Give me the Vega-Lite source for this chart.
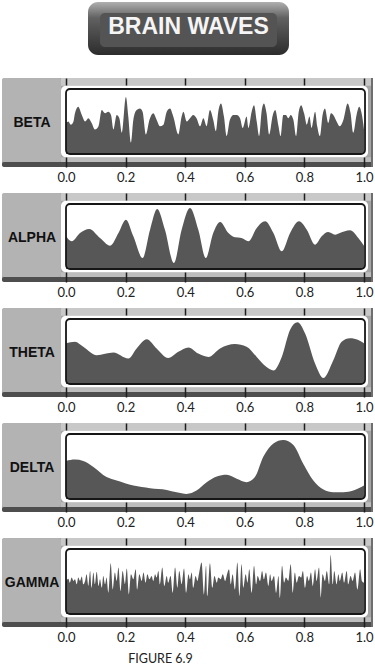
{
"$schema":"https://vega.github.io/schema/vega-lite/v6.json",
"padding":{"left":2,"top":0,"right":0,"bottom":0},
"background":"#ffffff",
"bounds":"flush",
"spacing":26,
"config":{"view":{"stroke":null}},
"datasets":{
"beta":[{"t":0,"v":47.5},{"t":0.008,"v":50},{"t":0.016,"v":45},{"t":0.025,"v":50},{"t":0.030,"v":62.5},{"t":0.041,"v":72.5},{"t":0.053,"v":60},{"t":0.064,"v":50},{"t":0.075,"v":55},{"t":0.086,"v":47.5},{"t":0.097,"v":37.5},{"t":0.109,"v":42.5},{"t":0.120,"v":67.5},{"t":0.131,"v":62.5},{"t":0.142,"v":65},{"t":0.151,"v":60},{"t":0.159,"v":37.5},{"t":0.170,"v":60},{"t":0.179,"v":55},{"t":0.187,"v":32.5},{"t":0.201,"v":87.5},{"t":0.209,"v":57.5},{"t":0.218,"v":17.5},{"t":0.226,"v":52.5},{"t":0.237,"v":67.5},{"t":0.248,"v":70},{"t":0.257,"v":65},{"t":0.268,"v":30},{"t":0.280,"v":52.5},{"t":0.293,"v":62.5},{"t":0.304,"v":52.5},{"t":0.315,"v":42.5},{"t":0.327,"v":45},{"t":0.338,"v":65},{"t":0.349,"v":70},{"t":0.360,"v":57.5},{"t":0.377,"v":30},{"t":0.388,"v":57.5},{"t":0.394,"v":65},{"t":0.405,"v":50},{"t":0.416,"v":55},{"t":0.427,"v":60},{"t":0.438,"v":55},{"t":0.450,"v":42.5},{"t":0.461,"v":55},{"t":0.472,"v":42.5},{"t":0.483,"v":67.5},{"t":0.494,"v":52.5},{"t":0.503,"v":35},{"t":0.511,"v":65},{"t":0.520,"v":77.5},{"t":0.530,"v":57.5},{"t":0.539,"v":27.5},{"t":0.550,"v":52.5},{"t":0.562,"v":60},{"t":0.573,"v":60},{"t":0.584,"v":55},{"t":0.593,"v":40},{"t":0.606,"v":57.5},{"t":0.612,"v":40},{"t":0.623,"v":65},{"t":0.631,"v":75},{"t":0.640,"v":50},{"t":0.648,"v":27.5},{"t":0.657,"v":67.5},{"t":0.664,"v":77.5},{"t":0.673,"v":62.5},{"t":0.682,"v":30},{"t":0.694,"v":60},{"t":0.702,"v":67.5},{"t":0.713,"v":42.5},{"t":0.720,"v":27.5},{"t":0.729,"v":60},{"t":0.738,"v":60},{"t":0.746,"v":55},{"t":0.754,"v":60},{"t":0.763,"v":52.5},{"t":0.772,"v":27.5},{"t":0.781,"v":65},{"t":0.789,"v":75},{"t":0.799,"v":62.5},{"t":0.808,"v":45},{"t":0.817,"v":57.5},{"t":0.824,"v":40},{"t":0.836,"v":65},{"t":0.843,"v":42.5},{"t":0.852,"v":27.5},{"t":0.861,"v":60},{"t":0.869,"v":70},{"t":0.880,"v":47.5},{"t":0.889,"v":62.5},{"t":0.897,"v":60},{"t":0.908,"v":50},{"t":0.919,"v":42.5},{"t":0.931,"v":52.5},{"t":0.945,"v":77.5},{"t":0.955,"v":62.5},{"t":0.964,"v":32.5},{"t":0.975,"v":60},{"t":0.984,"v":72.5},{"t":0.992,"v":62.5},{"t":1.0,"v":37.5}],
"alpha":[{"t":0,"v":50.3},{"t":0.019,"v":42.6},{"t":0.047,"v":55.4},{"t":0.078,"v":61.5},{"t":0.114,"v":47.7},{"t":0.148,"v":35.9},{"t":0.176,"v":55.4},{"t":0.201,"v":75.9},{"t":0.226,"v":50.3},{"t":0.257,"v":16.9},{"t":0.282,"v":60.5},{"t":0.306,"v":92.3},{"t":0.332,"v":60.5},{"t":0.362,"v":9.2},{"t":0.388,"v":60.5},{"t":0.416,"v":93.8},{"t":0.444,"v":60.5},{"t":0.469,"v":16.9},{"t":0.494,"v":55.4},{"t":0.517,"v":72.3},{"t":0.545,"v":55.4},{"t":0.567,"v":48.7},{"t":0.589,"v":47.7},{"t":0.612,"v":42.6},{"t":0.640,"v":63.1},{"t":0.668,"v":73.3},{"t":0.696,"v":55.4},{"t":0.724,"v":27.2},{"t":0.752,"v":55.4},{"t":0.782,"v":73.3},{"t":0.808,"v":60.5},{"t":0.836,"v":37.4},{"t":0.858,"v":50.3},{"t":0.880,"v":56.9},{"t":0.903,"v":52.8},{"t":0.919,"v":55.4},{"t":0.953,"v":59.5},{"t":0.981,"v":47.7},{"t":1.0,"v":35.9}],
"theta":[{"t":0,"v":62.5},{"t":0.030,"v":65.1},{"t":0.058,"v":57.3},{"t":0.103,"v":44.3},{"t":0.159,"v":48.4},{"t":0.209,"v":39.1},{"t":0.237,"v":54.7},{"t":0.271,"v":68.8},{"t":0.304,"v":54.7},{"t":0.343,"v":40.1},{"t":0.377,"v":49.5},{"t":0.411,"v":56.3},{"t":0.444,"v":46.9},{"t":0.478,"v":41.7},{"t":0.517,"v":54.7},{"t":0.567,"v":61.5},{"t":0.606,"v":57.3},{"t":0.640,"v":41.7},{"t":0.673,"v":26.0},{"t":0.696,"v":20.8},{"t":0.724,"v":41.7},{"t":0.752,"v":83.3},{"t":0.777,"v":94.8},{"t":0.802,"v":78.1},{"t":0.836,"v":31.3},{"t":0.864,"v":9.4},{"t":0.897,"v":36.5},{"t":0.925,"v":65.1},{"t":0.953,"v":70.3},{"t":0.981,"v":67.7},{"t":1.0,"v":62.5}],
"delta":[{"t":0,"v":58.5},{"t":0.030,"v":60.6},{"t":0.058,"v":58.5},{"t":0.092,"v":49.2},{"t":0.136,"v":33.7},{"t":0.170,"v":28.5},{"t":0.226,"v":20.7},{"t":0.282,"v":16.6},{"t":0.338,"v":14.0},{"t":0.371,"v":10.4},{"t":0.405,"v":7.8},{"t":0.438,"v":13.0},{"t":0.472,"v":25.9},{"t":0.506,"v":34.7},{"t":0.539,"v":37.3},{"t":0.573,"v":31.1},{"t":0.606,"v":25.9},{"t":0.634,"v":33.7},{"t":0.662,"v":64.8},{"t":0.696,"v":85.5},{"t":0.729,"v":90.7},{"t":0.763,"v":82.9},{"t":0.796,"v":54.4},{"t":0.830,"v":28.5},{"t":0.864,"v":14.5},{"t":0.897,"v":10.4},{"t":0.931,"v":10.4},{"t":0.964,"v":13.0},{"t":1.0,"v":20.7}],
"gamma":[{"t":0,"v":50.8},{"t":0.008,"v":54.4},{"t":0.013,"v":48.2},{"t":0.019,"v":56.0},{"t":0.025,"v":50.8},{"t":0.030,"v":53.4},{"t":0.036,"v":45.6},{"t":0.041,"v":56.0},{"t":0.047,"v":50.8},{"t":0.053,"v":57.5},{"t":0.058,"v":45.6},{"t":0.064,"v":50.8},{"t":0.069,"v":61.1},{"t":0.075,"v":43.0},{"t":0.081,"v":66.3},{"t":0.086,"v":40.4},{"t":0.092,"v":63.7},{"t":0.097,"v":45.6},{"t":0.103,"v":64.8},{"t":0.109,"v":43.0},{"t":0.114,"v":53.4},{"t":0.120,"v":40.4},{"t":0.125,"v":58.5},{"t":0.131,"v":45.6},{"t":0.136,"v":56.0},{"t":0.142,"v":32.6},{"t":0.150,"v":78.2},{"t":0.157,"v":37.8},{"t":0.164,"v":63.7},{"t":0.170,"v":50.8},{"t":0.176,"v":71.5},{"t":0.183,"v":35.2},{"t":0.190,"v":66.3},{"t":0.198,"v":45.6},{"t":0.204,"v":69.9},{"t":0.211,"v":30.1},{"t":0.218,"v":61.1},{"t":0.226,"v":53.4},{"t":0.234,"v":68.9},{"t":0.239,"v":37.8},{"t":0.246,"v":61.1},{"t":0.254,"v":50.8},{"t":0.260,"v":63.7},{"t":0.267,"v":48.2},{"t":0.273,"v":61.1},{"t":0.280,"v":53.4},{"t":0.287,"v":58.5},{"t":0.293,"v":50.8},{"t":0.299,"v":61.1},{"t":0.304,"v":56.0},{"t":0.310,"v":66.3},{"t":0.315,"v":45.6},{"t":0.323,"v":71.5},{"t":0.330,"v":43.0},{"t":0.338,"v":58.5},{"t":0.343,"v":48.2},{"t":0.351,"v":58.5},{"t":0.358,"v":32.6},{"t":0.366,"v":71.5},{"t":0.374,"v":40.4},{"t":0.380,"v":66.3},{"t":0.388,"v":45.6},{"t":0.396,"v":69.9},{"t":0.403,"v":32.6},{"t":0.411,"v":61.1},{"t":0.416,"v":53.4},{"t":0.422,"v":63.7},{"t":0.427,"v":40.4},{"t":0.435,"v":58.5},{"t":0.441,"v":50.8},{"t":0.447,"v":63.7},{"t":0.455,"v":79.3},{"t":0.463,"v":30.1},{"t":0.470,"v":74.1},{"t":0.474,"v":27.5},{"t":0.483,"v":78.2},{"t":0.491,"v":40.4},{"t":0.498,"v":58.5},{"t":0.506,"v":48.2},{"t":0.511,"v":56.0},{"t":0.519,"v":53.4},{"t":0.526,"v":61.1},{"t":0.534,"v":50.8},{"t":0.539,"v":58.5},{"t":0.547,"v":68.9},{"t":0.553,"v":45.6},{"t":0.559,"v":61.1},{"t":0.567,"v":37.8},{"t":0.575,"v":79.3},{"t":0.582,"v":27.5},{"t":0.589,"v":76.7},{"t":0.595,"v":40.4},{"t":0.603,"v":61.1},{"t":0.609,"v":48.2},{"t":0.615,"v":68.9},{"t":0.623,"v":32.6},{"t":0.631,"v":74.1},{"t":0.638,"v":45.6},{"t":0.643,"v":58.5},{"t":0.651,"v":50.8},{"t":0.658,"v":66.3},{"t":0.664,"v":53.4},{"t":0.671,"v":63.7},{"t":0.679,"v":43.0},{"t":0.685,"v":61.1},{"t":0.690,"v":50.8},{"t":0.698,"v":58.5},{"t":0.705,"v":32.6},{"t":0.713,"v":58.5},{"t":0.718,"v":24.9},{"t":0.725,"v":74.1},{"t":0.732,"v":48.2},{"t":0.738,"v":56.0},{"t":0.746,"v":50.8},{"t":0.754,"v":76.7},{"t":0.761,"v":32.6},{"t":0.768,"v":63.7},{"t":0.774,"v":48.2},{"t":0.782,"v":58.5},{"t":0.789,"v":56.0},{"t":0.795,"v":66.3},{"t":0.802,"v":40.4},{"t":0.809,"v":58.5},{"t":0.815,"v":50.8},{"t":0.822,"v":63.7},{"t":0.828,"v":43.0},{"t":0.836,"v":68.9},{"t":0.841,"v":50.8},{"t":0.849,"v":71.5},{"t":0.855,"v":24.9},{"t":0.861,"v":61.1},{"t":0.869,"v":50.8},{"t":0.875,"v":66.3},{"t":0.883,"v":45.6},{"t":0.888,"v":90.7},{"t":0.895,"v":45.6},{"t":0.900,"v":66.3},{"t":0.908,"v":45.6},{"t":0.914,"v":61.1},{"t":0.919,"v":50.8},{"t":0.927,"v":63.7},{"t":0.933,"v":48.2},{"t":0.942,"v":66.3},{"t":0.947,"v":45.6},{"t":0.955,"v":58.5},{"t":0.962,"v":50.8},{"t":0.970,"v":63.7},{"t":0.978,"v":37.8},{"t":0.987,"v":68.9},{"t":0.993,"v":50.8},{"t":1.0,"v":48.2}]
},
"vconcat":[
{"width":371,"height":52,"view":{"fill":null,"stroke":null},
 "data":{"values":[{"title":"BRAIN WAVES"}]},
 "layer":[
  {"mark":{"type":"rect","cornerRadius":10,"color":{"gradient":"linear","x1":0,"y1":0,"x2":0,"y2":1,"stops":[{"offset":0,"color":"#b0b0b0"},{"offset":0.3,"color":"#616161"},{"offset":1,"color":"#2c2c2c"}]}},
   "encoding":{"x":{"datum":0.0738,"type":"quantitative","scale":{"domain":[-0.2148,1.0302],"nice":false,"zero":false},"axis":null},"x2":{"datum":0.7483},"y":{"datum":0.962,"type":"quantitative","scale":{"domain":[0,1],"nice":false},"axis":null},"y2":{"datum":-0.058}}},
  {"mark":{"type":"rect","cornerRadius":5,"color":"#545454"},
   "encoding":{"x":{"datum":0.1141,"type":"quantitative","axis":null},"x2":{"datum":0.7081},"y":{"datum":0.75,"type":"quantitative","axis":null},"y2":{"datum":0.096}}},
  {"mark":{"type":"text","font":"Liberation Sans","fontWeight":"bold","fontSize":23,"color":"#f5f5f5"},
   "encoding":{"x":{"datum":0.411,"type":"quantitative","axis":null},"y":{"datum":0.481,"type":"quantitative","axis":null},"text":{"field":"title"}}}
 ]},
{"width":371,"height":89,"view":{"fill":"#a4a4a4","stroke":null,"cornerRadius":3},
 "data":{"values":[{"label":"BETA"}]},
 "layer":[
  {"mark":{"type":"rect","fill":"#b3b3b3","cornerRadius":2},"encoding":{"x":{"datum":-0.2148,"type":"quantitative","scale":{"domain":[-0.2148,1.0302],"nice":false,"zero":false},"axis":{"orient":"top","values":[0,0.2,0.4,0.6,0.8,1],"labels":false,"domain":false,"grid":false,"tickSize":-7,"tickWidth":1.5,"tickColor":"#1e1e1e","title":null,"zindex":1}},"x2":{"datum":-0.0168},"y":{"datum":116.9,"type":"quantitative","scale":{"domain":[-20,116.9],"nice":false,"zero":false},"axis":null},"y2":{"datum":-12.3}}},
  {"mark":{"type":"rect","fill":"#c8c8c8"},"encoding":{"x":{"datum":-0.0168,"type":"quantitative","axis":null},"x2":{"datum":1.0302},"y":{"datum":116.9,"type":"quantitative","axis":null},"y2":{"datum":105.1}}},
  {"mark":{"type":"rect","fill":"#bdbdbd"},"encoding":{"x":{"datum":-0.0168,"type":"quantitative","axis":null},"x2":{"datum":1.0302},"y":{"datum":-5.1,"type":"quantitative","axis":null},"y2":{"datum":-12.3}}},
  {"mark":{"type":"rect","fill":"#4e4e4e","cornerRadius":2},"encoding":{"x":{"datum":-0.2148,"type":"quantitative","axis":null},"x2":{"datum":1.0302},"y":{"datum":-12.3,"type":"quantitative","axis":null},"y2":{"datum":-20}}},
  {"mark":{"type":"rect","fill":"#6e6e6e"},"encoding":{"x":{"datum":1.0235,"type":"quantitative","axis":null},"x2":{"datum":1.0302},"y":{"datum":116.9,"type":"quantitative","axis":null},"y2":{"datum":-20}}},
  {"mark":{"type":"rect","fill":"#ffffff","cornerRadius":5},"encoding":{"x":{"datum":-0.0168,"type":"quantitative","axis":null},"x2":{"datum":1.0134},"y":{"datum":105.1,"type":"quantitative","axis":null},"y2":{"datum":-5.1}}},
  {"data":{"name":"beta"},"mark":{"type":"area","color":"#575757","interpolate":"monotone"},"encoding":{"x":{"field":"t","type":"quantitative","scale":{"domain":[-0.2148,1.0302],"nice":false,"zero":false},"axis":{"orient":"bottom","values":[0,0.2,0.4,0.6,0.8,1],"format":".1f","domain":false,"grid":false,"tickSize":-10,"tickWidth":1.5,"tickColor":"#1e1e1e","labelFont":"Lato","labelFontSize":13,"labelColor":"#222222","labelPadding":14,"labelFlush":false,"labelOverlap":false,"title":null,"zindex":1}},"y":{"field":"v","type":"quantitative","axis":null},"y2":{"datum":0}}},
  {"mark":{"type":"rect","filled":false,"stroke":"#161616","strokeWidth":1.8,"cornerRadius":4},"encoding":{"x":{"datum":0,"type":"quantitative","axis":null},"x2":{"datum":1.0034},"y":{"datum":100,"type":"quantitative","axis":null},"y2":{"datum":0}}},
  {"mark":{"type":"text","font":"Liberation Sans","fontWeight":"bold","fontSize":14,"color":"#111111"},"encoding":{"x":{"datum":-0.114,"type":"quantitative","axis":null},"y":{"datum":47.7,"type":"quantitative","axis":null},"text":{"field":"label"}}}
 ],
 "resolve":{"axis":{"x":"independent"}}},
{"width":371,"height":89,"view":{"fill":"#a4a4a4","stroke":null,"cornerRadius":3},
 "data":{"values":[{"label":"ALPHA"}]},
 "layer":[
  {"mark":{"type":"rect","fill":"#b3b3b3","cornerRadius":2},"encoding":{"x":{"datum":-0.2148,"type":"quantitative","scale":{"domain":[-0.2148,1.0302],"nice":false,"zero":false},"axis":{"orient":"top","values":[0,0.2,0.4,0.6,0.8,1],"labels":false,"domain":false,"grid":false,"tickSize":-7,"tickWidth":1.5,"tickColor":"#1e1e1e","title":null,"zindex":1}},"x2":{"datum":-0.0168},"y":{"datum":116.9,"type":"quantitative","scale":{"domain":[-20,116.9],"nice":false,"zero":false},"axis":null},"y2":{"datum":-12.3}}},
  {"mark":{"type":"rect","fill":"#c8c8c8"},"encoding":{"x":{"datum":-0.0168,"type":"quantitative","axis":null},"x2":{"datum":1.0302},"y":{"datum":116.9,"type":"quantitative","axis":null},"y2":{"datum":105.1}}},
  {"mark":{"type":"rect","fill":"#bdbdbd"},"encoding":{"x":{"datum":-0.0168,"type":"quantitative","axis":null},"x2":{"datum":1.0302},"y":{"datum":-5.1,"type":"quantitative","axis":null},"y2":{"datum":-12.3}}},
  {"mark":{"type":"rect","fill":"#4e4e4e","cornerRadius":2},"encoding":{"x":{"datum":-0.2148,"type":"quantitative","axis":null},"x2":{"datum":1.0302},"y":{"datum":-12.3,"type":"quantitative","axis":null},"y2":{"datum":-20}}},
  {"mark":{"type":"rect","fill":"#6e6e6e"},"encoding":{"x":{"datum":1.0235,"type":"quantitative","axis":null},"x2":{"datum":1.0302},"y":{"datum":116.9,"type":"quantitative","axis":null},"y2":{"datum":-20}}},
  {"mark":{"type":"rect","fill":"#ffffff","cornerRadius":5},"encoding":{"x":{"datum":-0.0168,"type":"quantitative","axis":null},"x2":{"datum":1.0134},"y":{"datum":105.1,"type":"quantitative","axis":null},"y2":{"datum":-5.1}}},
  {"data":{"name":"alpha"},"mark":{"type":"area","color":"#575757","interpolate":"monotone"},"encoding":{"x":{"field":"t","type":"quantitative","scale":{"domain":[-0.2148,1.0302],"nice":false,"zero":false},"axis":{"orient":"bottom","values":[0,0.2,0.4,0.6,0.8,1],"format":".1f","domain":false,"grid":false,"tickSize":-10,"tickWidth":1.5,"tickColor":"#1e1e1e","labelFont":"Lato","labelFontSize":13,"labelColor":"#222222","labelPadding":14,"labelFlush":false,"labelOverlap":false,"title":null,"zindex":1}},"y":{"field":"v","type":"quantitative","axis":null},"y2":{"datum":0}}},
  {"mark":{"type":"rect","filled":false,"stroke":"#161616","strokeWidth":1.8,"cornerRadius":4},"encoding":{"x":{"datum":0,"type":"quantitative","axis":null},"x2":{"datum":1.0034},"y":{"datum":100,"type":"quantitative","axis":null},"y2":{"datum":0}}},
  {"mark":{"type":"text","font":"Liberation Sans","fontWeight":"bold","fontSize":14,"color":"#111111"},"encoding":{"x":{"datum":-0.114,"type":"quantitative","axis":null},"y":{"datum":47.7,"type":"quantitative","axis":null},"text":{"field":"label"}}}
 ],
 "resolve":{"axis":{"x":"independent"}}},
{"width":371,"height":89,"view":{"fill":"#a4a4a4","stroke":null,"cornerRadius":3},
 "data":{"values":[{"label":"THETA"}]},
 "layer":[
  {"mark":{"type":"rect","fill":"#b3b3b3","cornerRadius":2},"encoding":{"x":{"datum":-0.2148,"type":"quantitative","scale":{"domain":[-0.2148,1.0302],"nice":false,"zero":false},"axis":{"orient":"top","values":[0,0.2,0.4,0.6,0.8,1],"labels":false,"domain":false,"grid":false,"tickSize":-7,"tickWidth":1.5,"tickColor":"#1e1e1e","title":null,"zindex":1}},"x2":{"datum":-0.0168},"y":{"datum":116.9,"type":"quantitative","scale":{"domain":[-20,116.9],"nice":false,"zero":false},"axis":null},"y2":{"datum":-12.3}}},
  {"mark":{"type":"rect","fill":"#c8c8c8"},"encoding":{"x":{"datum":-0.0168,"type":"quantitative","axis":null},"x2":{"datum":1.0302},"y":{"datum":116.9,"type":"quantitative","axis":null},"y2":{"datum":105.1}}},
  {"mark":{"type":"rect","fill":"#bdbdbd"},"encoding":{"x":{"datum":-0.0168,"type":"quantitative","axis":null},"x2":{"datum":1.0302},"y":{"datum":-5.1,"type":"quantitative","axis":null},"y2":{"datum":-12.3}}},
  {"mark":{"type":"rect","fill":"#4e4e4e","cornerRadius":2},"encoding":{"x":{"datum":-0.2148,"type":"quantitative","axis":null},"x2":{"datum":1.0302},"y":{"datum":-12.3,"type":"quantitative","axis":null},"y2":{"datum":-20}}},
  {"mark":{"type":"rect","fill":"#6e6e6e"},"encoding":{"x":{"datum":1.0235,"type":"quantitative","axis":null},"x2":{"datum":1.0302},"y":{"datum":116.9,"type":"quantitative","axis":null},"y2":{"datum":-20}}},
  {"mark":{"type":"rect","fill":"#ffffff","cornerRadius":5},"encoding":{"x":{"datum":-0.0168,"type":"quantitative","axis":null},"x2":{"datum":1.0134},"y":{"datum":105.1,"type":"quantitative","axis":null},"y2":{"datum":-5.1}}},
  {"data":{"name":"theta"},"mark":{"type":"area","color":"#575757","interpolate":"monotone"},"encoding":{"x":{"field":"t","type":"quantitative","scale":{"domain":[-0.2148,1.0302],"nice":false,"zero":false},"axis":{"orient":"bottom","values":[0,0.2,0.4,0.6,0.8,1],"format":".1f","domain":false,"grid":false,"tickSize":-10,"tickWidth":1.5,"tickColor":"#1e1e1e","labelFont":"Lato","labelFontSize":13,"labelColor":"#222222","labelPadding":14,"labelFlush":false,"labelOverlap":false,"title":null,"zindex":1}},"y":{"field":"v","type":"quantitative","axis":null},"y2":{"datum":0}}},
  {"mark":{"type":"rect","filled":false,"stroke":"#161616","strokeWidth":1.8,"cornerRadius":4},"encoding":{"x":{"datum":0,"type":"quantitative","axis":null},"x2":{"datum":1.0034},"y":{"datum":100,"type":"quantitative","axis":null},"y2":{"datum":0}}},
  {"mark":{"type":"text","font":"Liberation Sans","fontWeight":"bold","fontSize":14,"color":"#111111"},"encoding":{"x":{"datum":-0.114,"type":"quantitative","axis":null},"y":{"datum":47.7,"type":"quantitative","axis":null},"text":{"field":"label"}}}
 ],
 "resolve":{"axis":{"x":"independent"}}},
{"width":371,"height":89,"view":{"fill":"#a4a4a4","stroke":null,"cornerRadius":3},
 "data":{"values":[{"label":"DELTA"}]},
 "layer":[
  {"mark":{"type":"rect","fill":"#b3b3b3","cornerRadius":2},"encoding":{"x":{"datum":-0.2148,"type":"quantitative","scale":{"domain":[-0.2148,1.0302],"nice":false,"zero":false},"axis":{"orient":"top","values":[0,0.2,0.4,0.6,0.8,1],"labels":false,"domain":false,"grid":false,"tickSize":-7,"tickWidth":1.5,"tickColor":"#1e1e1e","title":null,"zindex":1}},"x2":{"datum":-0.0168},"y":{"datum":116.9,"type":"quantitative","scale":{"domain":[-20,116.9],"nice":false,"zero":false},"axis":null},"y2":{"datum":-12.3}}},
  {"mark":{"type":"rect","fill":"#c8c8c8"},"encoding":{"x":{"datum":-0.0168,"type":"quantitative","axis":null},"x2":{"datum":1.0302},"y":{"datum":116.9,"type":"quantitative","axis":null},"y2":{"datum":105.1}}},
  {"mark":{"type":"rect","fill":"#bdbdbd"},"encoding":{"x":{"datum":-0.0168,"type":"quantitative","axis":null},"x2":{"datum":1.0302},"y":{"datum":-5.1,"type":"quantitative","axis":null},"y2":{"datum":-12.3}}},
  {"mark":{"type":"rect","fill":"#4e4e4e","cornerRadius":2},"encoding":{"x":{"datum":-0.2148,"type":"quantitative","axis":null},"x2":{"datum":1.0302},"y":{"datum":-12.3,"type":"quantitative","axis":null},"y2":{"datum":-20}}},
  {"mark":{"type":"rect","fill":"#6e6e6e"},"encoding":{"x":{"datum":1.0235,"type":"quantitative","axis":null},"x2":{"datum":1.0302},"y":{"datum":116.9,"type":"quantitative","axis":null},"y2":{"datum":-20}}},
  {"mark":{"type":"rect","fill":"#ffffff","cornerRadius":5},"encoding":{"x":{"datum":-0.0168,"type":"quantitative","axis":null},"x2":{"datum":1.0134},"y":{"datum":105.1,"type":"quantitative","axis":null},"y2":{"datum":-5.1}}},
  {"data":{"name":"delta"},"mark":{"type":"area","color":"#575757","interpolate":"monotone"},"encoding":{"x":{"field":"t","type":"quantitative","scale":{"domain":[-0.2148,1.0302],"nice":false,"zero":false},"axis":{"orient":"bottom","values":[0,0.2,0.4,0.6,0.8,1],"format":".1f","domain":false,"grid":false,"tickSize":-10,"tickWidth":1.5,"tickColor":"#1e1e1e","labelFont":"Lato","labelFontSize":13,"labelColor":"#222222","labelPadding":14,"labelFlush":false,"labelOverlap":false,"title":null,"zindex":1}},"y":{"field":"v","type":"quantitative","axis":null},"y2":{"datum":0}}},
  {"mark":{"type":"rect","filled":false,"stroke":"#161616","strokeWidth":1.8,"cornerRadius":4},"encoding":{"x":{"datum":0,"type":"quantitative","axis":null},"x2":{"datum":1.0034},"y":{"datum":100,"type":"quantitative","axis":null},"y2":{"datum":0}}},
  {"mark":{"type":"text","font":"Liberation Sans","fontWeight":"bold","fontSize":14,"color":"#111111"},"encoding":{"x":{"datum":-0.114,"type":"quantitative","axis":null},"y":{"datum":47.7,"type":"quantitative","axis":null},"text":{"field":"label"}}}
 ],
 "resolve":{"axis":{"x":"independent"}}},
{"width":371,"height":89,"view":{"fill":"#a4a4a4","stroke":null,"cornerRadius":3},
 "data":{"values":[{"label":"GAMMA"}]},
 "layer":[
  {"mark":{"type":"rect","fill":"#b3b3b3","cornerRadius":2},"encoding":{"x":{"datum":-0.2148,"type":"quantitative","scale":{"domain":[-0.2148,1.0302],"nice":false,"zero":false},"axis":{"orient":"top","values":[0,0.2,0.4,0.6,0.8,1],"labels":false,"domain":false,"grid":false,"tickSize":-7,"tickWidth":1.5,"tickColor":"#1e1e1e","title":null,"zindex":1}},"x2":{"datum":-0.0168},"y":{"datum":116.9,"type":"quantitative","scale":{"domain":[-20,116.9],"nice":false,"zero":false},"axis":null},"y2":{"datum":-12.3}}},
  {"mark":{"type":"rect","fill":"#c8c8c8"},"encoding":{"x":{"datum":-0.0168,"type":"quantitative","axis":null},"x2":{"datum":1.0302},"y":{"datum":116.9,"type":"quantitative","axis":null},"y2":{"datum":105.1}}},
  {"mark":{"type":"rect","fill":"#bdbdbd"},"encoding":{"x":{"datum":-0.0168,"type":"quantitative","axis":null},"x2":{"datum":1.0302},"y":{"datum":-5.1,"type":"quantitative","axis":null},"y2":{"datum":-12.3}}},
  {"mark":{"type":"rect","fill":"#4e4e4e","cornerRadius":2},"encoding":{"x":{"datum":-0.2148,"type":"quantitative","axis":null},"x2":{"datum":1.0302},"y":{"datum":-12.3,"type":"quantitative","axis":null},"y2":{"datum":-20}}},
  {"mark":{"type":"rect","fill":"#6e6e6e"},"encoding":{"x":{"datum":1.0235,"type":"quantitative","axis":null},"x2":{"datum":1.0302},"y":{"datum":116.9,"type":"quantitative","axis":null},"y2":{"datum":-20}}},
  {"mark":{"type":"rect","fill":"#ffffff","cornerRadius":5},"encoding":{"x":{"datum":-0.0168,"type":"quantitative","axis":null},"x2":{"datum":1.0134},"y":{"datum":105.1,"type":"quantitative","axis":null},"y2":{"datum":-5.1}}},
  {"data":{"name":"gamma"},"mark":{"type":"area","color":"#575757","interpolate":"monotone"},"encoding":{"x":{"field":"t","type":"quantitative","scale":{"domain":[-0.2148,1.0302],"nice":false,"zero":false},"axis":{"orient":"bottom","values":[0,0.2,0.4,0.6,0.8,1],"format":".1f","domain":false,"grid":false,"tickSize":-10,"tickWidth":1.5,"tickColor":"#1e1e1e","labelFont":"Lato","labelFontSize":13,"labelColor":"#222222","labelPadding":14,"labelFlush":false,"labelOverlap":false,"title":"FIGURE 6.9","titleFont":"Lato","titleFontSize":12.5,"titleFontWeight":"normal","titleColor":"#222222","titlePadding":8,"titleX":158,"zindex":1}},"y":{"field":"v","type":"quantitative","axis":null},"y2":{"datum":0}}},
  {"mark":{"type":"rect","filled":false,"stroke":"#161616","strokeWidth":1.8,"cornerRadius":4},"encoding":{"x":{"datum":0,"type":"quantitative","axis":null},"x2":{"datum":1.0034},"y":{"datum":100,"type":"quantitative","axis":null},"y2":{"datum":0}}},
  {"mark":{"type":"text","font":"Liberation Sans","fontWeight":"bold","fontSize":14,"color":"#111111"},"encoding":{"x":{"datum":-0.114,"type":"quantitative","axis":null},"y":{"datum":47.7,"type":"quantitative","axis":null},"text":{"field":"label"}}}
 ],
 "resolve":{"axis":{"x":"independent"}}}
]
}
